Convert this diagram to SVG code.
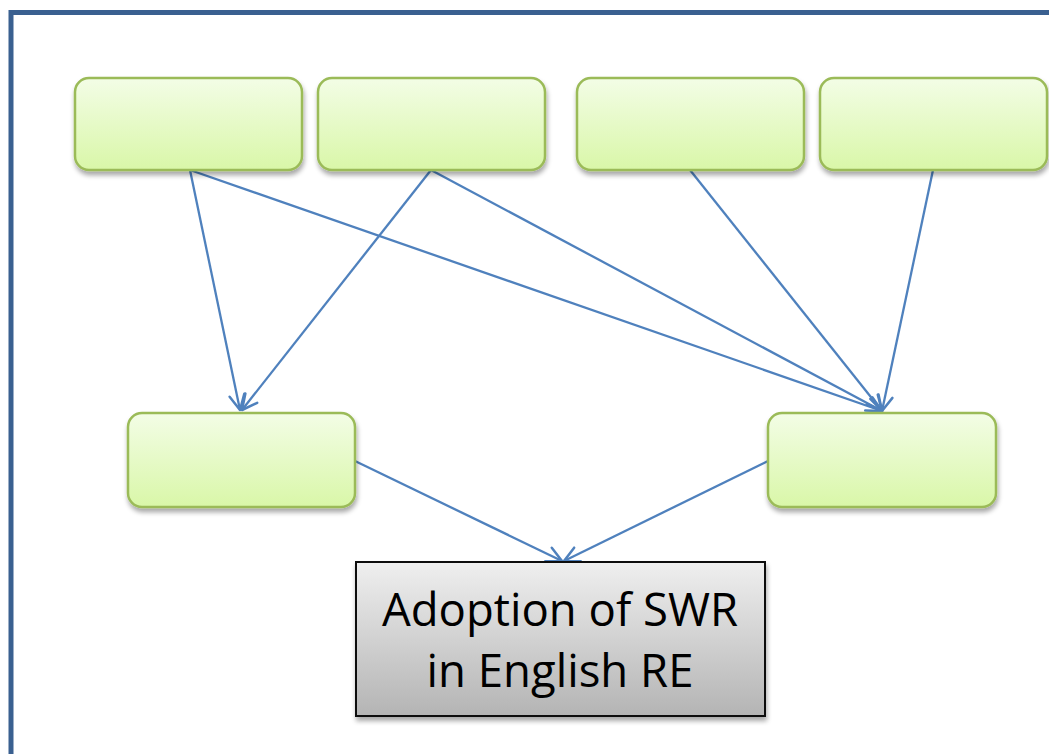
<svg xmlns="http://www.w3.org/2000/svg" width="1049" height="754" viewBox="0 0 1049 754">
  <defs>
    <linearGradient id="gGreen" x1="0" y1="0" x2="0" y2="1">
      <stop offset="0" stop-color="#f3fde6"/>
      <stop offset="1" stop-color="#d9f7a8"/>
    </linearGradient>
    <linearGradient id="gGray" x1="0" y1="0" x2="0" y2="1">
      <stop offset="0" stop-color="#efefef"/>
      <stop offset="1" stop-color="#b4b4b4"/>
    </linearGradient>
    <filter id="shadow" x="-10%" y="-10%" width="120%" height="130%">
      <feGaussianBlur in="SourceAlpha" stdDeviation="2.5"/>
      <feOffset dx="1" dy="4" result="b"/>
      <feComponentTransfer><feFuncA type="linear" slope="0.35"/></feComponentTransfer>
      <feMerge><feMergeNode/><feMergeNode in="SourceGraphic"/></feMerge>
    </filter>
    <marker id="arrow" viewBox="-18 -10 20 20" refX="0" refY="0" markerWidth="20" markerHeight="20" markerUnits="userSpaceOnUse" orient="auto">
      <path d="M -15 -7.5 L 0 0 L -15 7.5" fill="none" stroke="#4f81bd" stroke-width="2.5" stroke-linecap="round" stroke-linejoin="round"/>
    </marker>
    <style>
      .frame { fill: none; stroke: #3a6090; stroke-width: 5; }
      .box { fill: url(#gGreen); stroke: #9bbb59; stroke-width: 2.5; filter: url(#shadow); }
      .goal { fill: url(#gGray); stroke: #111; stroke-width: 2; filter: url(#shadow); }
      .conn { fill: none; stroke: #4f81bd; stroke-width: 2.3; marker-end: url(#arrow); }
      .label { font-family: "Open Sans", "Liberation Sans", sans-serif; font-size: 45.5px; fill: #000; text-anchor: middle; }
    </style>
  </defs>

  <rect width="1049" height="754" fill="#fff"/>
  <!-- outer frame, open to the right and bottom -->
  <rect class="frame" x="11" y="12.5" width="1060" height="780"/>

  <g id="connectors">
    <line class="conn" x1="190" y1="170" x2="240" y2="410"/>
    <line class="conn" x1="190" y1="170" x2="882" y2="411"/>
    <line class="conn" x1="431" y1="170" x2="242" y2="410"/>
    <line class="conn" x1="431" y1="170" x2="882" y2="411"/>
    <line class="conn" x1="690" y1="170" x2="882" y2="411"/>
    <line class="conn" x1="933" y1="170" x2="882" y2="411"/>
    <line class="conn" x1="355" y1="461" x2="562" y2="561"/>
    <line class="conn" x1="768" y1="461" x2="564" y2="561"/>
  </g>

  <g id="top1"><rect class="box" x="75" y="78" width="227" height="92" rx="14"/></g>
  <g id="top2"><rect class="box" x="318" y="78" width="227" height="92" rx="14"/></g>
  <g id="top3"><rect class="box" x="577" y="78" width="227" height="92" rx="14"/></g>
  <g id="top4"><rect class="box" x="820" y="78" width="227" height="92" rx="14"/></g>
  <g id="midLeft"><rect class="box" x="128" y="413" width="227" height="94" rx="14"/></g>
  <g id="midRight"><rect class="box" x="768" y="413" width="228" height="94" rx="14"/></g>

  <g id="adoption">
    <rect class="goal" x="356" y="562" width="409" height="154"/>
    <text class="label" x="560" y="626">Adoption of SWR</text>
    <text class="label" x="560" y="687">in English RE</text>
  </g>
</svg>
